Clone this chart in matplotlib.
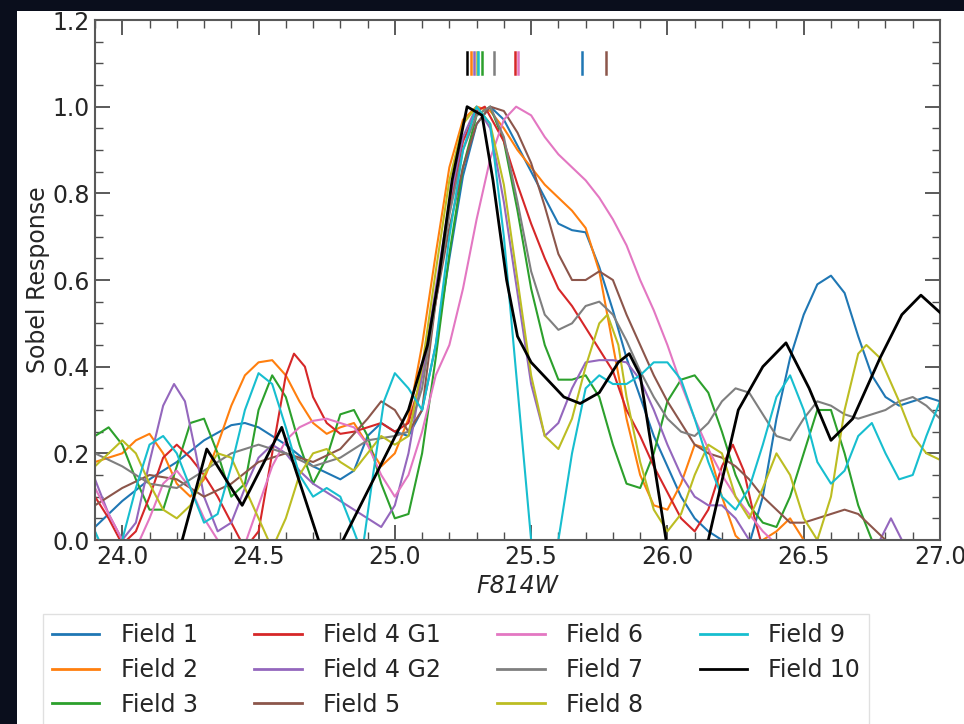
import matplotlib
matplotlib.use("Agg")
import matplotlib.pyplot as plt
from matplotlib.patches import Rectangle

labels = ["Field 1", "Field 2", "Field 3", "Field 4 G1", "Field 4 G2", "Field 5",
          "Field 6", "Field 7", "Field 8", "Field 9", "Field 10"]
colors = ["#1f77b4", "#ff7f0e", "#2ca02c", "#d62728", "#9467bd", "#8c564b",
          "#e377c2", "#7f7f7f", "#bcbd22", "#17becf", "black"]

f1_x = [23.9, 24.0, 24.1, 24.2, 24.3, 24.4, 24.45, 24.5, 24.6, 24.7, 24.8, 24.85, 24.9, 24.95, 25.0, 25.05, 25.1, 25.15, 25.2, 25.25, 25.3, 25.35, 25.4, 25.45, 25.5, 25.55, 25.6, 25.65, 25.7, 25.75, 25.8, 25.85, 25.9, 25.95, 26.0, 26.05, 26.1, 26.15, 26.2, 26.25, 26.3, 26.35, 26.4, 26.45, 26.5, 26.55, 26.6, 26.65, 26.7, 26.75, 26.8, 26.85, 26.9, 26.95, 27.0]
f1_y = [0.03, 0.09, 0.14, 0.18, 0.23, 0.265, 0.27, 0.26, 0.22, 0.17, 0.14, 0.16, 0.24, 0.27, 0.25, 0.24, 0.30, 0.45, 0.65, 0.84, 0.96, 1.0, 0.97, 0.91, 0.85, 0.79, 0.73, 0.715, 0.71, 0.63, 0.53, 0.42, 0.33, 0.24, 0.17, 0.10, 0.05, 0.02, 0.0, -0.03, -0.01, 0.10, 0.28, 0.42, 0.52, 0.59, 0.61, 0.57, 0.47, 0.38, 0.33, 0.31, 0.32, 0.33, 0.32]

f2_x = [23.9, 24.0, 24.05, 24.1, 24.15, 24.2, 24.25, 24.3, 24.35, 24.4, 24.45, 24.5, 24.55, 24.6, 24.65, 24.7, 24.75, 24.8, 24.85, 24.9, 24.95, 25.0, 25.05, 25.1, 25.15, 25.2, 25.25, 25.3, 25.35, 25.4, 25.45, 25.5, 25.55, 25.6, 25.65, 25.7, 25.75, 25.8, 25.85, 25.9, 25.95, 26.0, 26.05, 26.1, 26.15, 26.2, 26.25, 26.3, 26.4, 26.45, 26.5, 26.6, 26.8, 27.0]
f2_y = [0.18, 0.20, 0.23, 0.245, 0.20, 0.13, 0.10, 0.14, 0.22, 0.31, 0.38, 0.41, 0.415, 0.38, 0.32, 0.27, 0.245, 0.26, 0.27, 0.22, 0.17, 0.20, 0.28, 0.45, 0.66, 0.86, 0.97, 1.0, 0.99, 0.95, 0.90, 0.86, 0.82, 0.79, 0.76, 0.72, 0.62, 0.45, 0.28, 0.15, 0.08, 0.07, 0.13, 0.22, 0.21, 0.10, 0.01, -0.02, 0.02, 0.05, 0.0, -0.05, -0.05, -0.05]

f3_x = [23.9, 23.95, 24.0, 24.05, 24.1, 24.15, 24.2, 24.25, 24.3, 24.35, 24.4, 24.45, 24.5, 24.55, 24.6, 24.65, 24.7, 24.75, 24.8, 24.85, 24.9, 24.95, 25.0, 25.05, 25.1, 25.15, 25.2, 25.25, 25.3, 25.35, 25.4, 25.45, 25.5, 25.55, 25.6, 25.65, 25.7, 25.75, 25.8, 25.85, 25.9, 25.95, 26.0, 26.05, 26.1, 26.15, 26.2, 26.25, 26.3, 26.35, 26.4, 26.45, 26.5, 26.55, 26.6, 26.65, 26.7, 26.75, 26.8, 27.0]
f3_y = [0.24, 0.26, 0.22, 0.14, 0.07, 0.07, 0.17, 0.27, 0.28, 0.20, 0.10, 0.13, 0.30, 0.38, 0.33, 0.22, 0.13, 0.19, 0.29, 0.30, 0.24, 0.13, 0.05, 0.06, 0.20, 0.42, 0.66, 0.86, 0.98, 1.0, 0.92, 0.76, 0.58, 0.45, 0.37, 0.37, 0.38, 0.33, 0.22, 0.13, 0.12, 0.20, 0.32, 0.37, 0.38, 0.34, 0.25, 0.15, 0.08, 0.04, 0.03, 0.10, 0.20, 0.30, 0.30, 0.20, 0.08, 0.0, -0.05, -0.05]

f4a_x = [23.9, 23.95, 24.0, 24.05, 24.1, 24.15, 24.2, 24.25, 24.3, 24.35, 24.4, 24.45, 24.5, 24.55, 24.6, 24.63, 24.67, 24.7, 24.75, 24.8, 24.85, 24.9, 24.95, 25.0, 25.05, 25.1, 25.15, 25.2, 25.25, 25.3, 25.33, 25.4, 25.45, 25.5, 25.55, 25.6, 25.65, 25.7, 25.75, 25.8, 25.85, 25.9, 25.95, 26.0, 26.05, 26.1, 26.15, 26.2, 26.24, 26.28, 26.32, 26.35, 26.5, 27.0]
f4a_y = [0.10, 0.05, -0.01, 0.02, 0.10, 0.19, 0.22, 0.19, 0.15, 0.10, 0.04, -0.02, 0.02, 0.20, 0.38, 0.43, 0.40, 0.33, 0.27, 0.245, 0.25, 0.26, 0.27, 0.25, 0.27, 0.38, 0.55, 0.76, 0.92, 0.99, 1.0, 0.92, 0.82, 0.73, 0.65, 0.58, 0.54, 0.49, 0.44, 0.39, 0.30, 0.24, 0.17, 0.11, 0.05, 0.02, 0.07, 0.17, 0.22, 0.16, 0.05, -0.02, -0.10, -0.10]

f4b_x = [23.9, 23.95, 24.0, 24.05, 24.1, 24.15, 24.19, 24.23, 24.27, 24.3, 24.35, 24.4, 24.45, 24.5, 24.55, 24.6, 24.65, 24.7, 24.75, 24.8, 24.85, 24.9, 24.95, 25.0, 25.05, 25.1, 25.15, 25.2, 25.25, 25.3, 25.35, 25.4, 25.45, 25.5, 25.55, 25.6, 25.65, 25.7, 25.75, 25.8, 25.85, 25.9, 25.95, 26.0, 26.05, 26.1, 26.15, 26.2, 26.25, 26.3, 26.4, 26.5, 26.6, 26.7, 26.78, 26.82, 26.86, 26.9, 27.0]
f4b_y = [0.14, 0.06, 0.0, 0.04, 0.18, 0.31, 0.36, 0.32, 0.20, 0.10, 0.02, 0.04, 0.12, 0.19, 0.22, 0.20, 0.16, 0.13, 0.11, 0.09, 0.07, 0.05, 0.03, 0.08, 0.20, 0.38, 0.58, 0.78, 0.93, 1.0, 0.95, 0.78, 0.57, 0.36, 0.24, 0.27, 0.35, 0.41, 0.415, 0.415, 0.41, 0.37, 0.30, 0.22, 0.15, 0.10, 0.08, 0.08, 0.05, 0.0, -0.05, -0.05, -0.03, -0.03, 0.0, 0.05, 0.0, -0.05, -0.05]

f5_x = [23.9, 24.0, 24.1, 24.2, 24.3, 24.4, 24.5, 24.6, 24.7, 24.8, 24.9, 24.95, 25.0, 25.05, 25.1, 25.15, 25.2, 25.25, 25.3, 25.35, 25.4, 25.45, 25.5, 25.55, 25.6, 25.65, 25.7, 25.75, 25.8, 25.85, 25.9, 25.95, 26.0, 26.05, 26.1, 26.15, 26.2, 26.25, 26.3, 26.35, 26.4, 26.45, 26.5, 26.55, 26.6, 26.65, 26.7, 26.75, 26.8, 26.85, 27.0]
f5_y = [0.08, 0.12, 0.15, 0.14, 0.10, 0.13, 0.18, 0.20, 0.18, 0.21, 0.28, 0.32, 0.30, 0.25, 0.30, 0.55, 0.72, 0.86, 0.96, 1.0, 0.99, 0.94, 0.87, 0.77, 0.66, 0.60, 0.60, 0.62, 0.60, 0.52, 0.45, 0.38, 0.32, 0.27, 0.22, 0.20, 0.19, 0.17, 0.14, 0.10, 0.07, 0.04, 0.04, 0.05, 0.06, 0.07, 0.06, 0.03, 0.0, -0.03, -0.03]

f6_x = [23.9, 23.95, 24.0, 24.05, 24.1, 24.15, 24.2, 24.25, 24.3, 24.35, 24.4, 24.45, 24.5, 24.55, 24.6, 24.65, 24.7, 24.75, 24.8, 24.85, 24.9, 24.95, 25.0, 25.05, 25.1, 25.15, 25.2, 25.25, 25.3, 25.35, 25.4, 25.445, 25.5, 25.55, 25.6, 25.65, 25.7, 25.75, 25.8, 25.85, 25.9, 25.95, 26.0, 26.05, 26.1, 26.15, 26.2, 26.25, 26.3, 26.35, 26.4, 27.0]
f6_y = [0.12, 0.06, 0.0, -0.02, 0.05, 0.13, 0.16, 0.12, 0.05, 0.0, -0.03, -0.01, 0.08, 0.17, 0.23, 0.26, 0.275, 0.28, 0.27, 0.26, 0.22, 0.15, 0.10, 0.15, 0.25, 0.38, 0.45, 0.58, 0.74, 0.88, 0.97, 1.0, 0.98, 0.93, 0.89, 0.86, 0.83, 0.79, 0.74, 0.68, 0.60, 0.53, 0.45, 0.36, 0.28, 0.21, 0.15, 0.10, 0.06, 0.02, -0.01, -0.05]

f7_x = [23.9, 24.0, 24.1, 24.2, 24.3, 24.4, 24.5, 24.6, 24.7, 24.8, 24.9, 25.0, 25.05, 25.1, 25.15, 25.2, 25.25, 25.3, 25.35, 25.4, 25.45, 25.5, 25.55, 25.6, 25.65, 25.7, 25.75, 25.8, 25.85, 25.9, 25.95, 26.0, 26.05, 26.1, 26.15, 26.2, 26.25, 26.3, 26.35, 26.4, 26.45, 26.5, 26.55, 26.6, 26.65, 26.7, 26.75, 26.8, 26.85, 26.9, 26.95, 27.0]
f7_y = [0.20, 0.17, 0.13, 0.12, 0.16, 0.20, 0.22, 0.20, 0.17, 0.19, 0.23, 0.24, 0.25, 0.35, 0.55, 0.75, 0.90, 0.98, 1.0, 0.93, 0.78, 0.62, 0.52, 0.485, 0.50, 0.54, 0.55, 0.52, 0.46, 0.39, 0.33, 0.28, 0.25, 0.24, 0.27, 0.32, 0.35, 0.34, 0.29, 0.24, 0.23, 0.28, 0.32, 0.31, 0.29, 0.28, 0.29, 0.30, 0.32, 0.33, 0.31, 0.28]

f8_x = [23.9, 23.95, 24.0, 24.05, 24.1, 24.15, 24.2, 24.25, 24.3, 24.35, 24.4, 24.45, 24.5, 24.55, 24.6, 24.65, 24.7, 24.75, 24.8, 24.85, 24.9, 24.95, 25.0, 25.05, 25.1, 25.15, 25.2, 25.25, 25.3, 25.35, 25.4, 25.45, 25.5, 25.55, 25.6, 25.65, 25.7, 25.75, 25.78, 25.82, 25.85, 25.9, 25.95, 26.0, 26.05, 26.1, 26.15, 26.2, 26.25, 26.3, 26.35, 26.4, 26.45, 26.5, 26.55, 26.6, 26.65, 26.7, 26.73, 26.78, 26.85, 26.9, 26.95, 27.0]
f8_y = [0.17, 0.20, 0.23, 0.20, 0.13, 0.07, 0.05, 0.08, 0.15, 0.20, 0.19, 0.12, 0.05, -0.02, 0.05, 0.15, 0.20, 0.21, 0.18, 0.16, 0.20, 0.24, 0.22, 0.24, 0.40, 0.62, 0.83, 0.96, 1.0, 0.96, 0.82, 0.60, 0.38, 0.24, 0.21, 0.28, 0.40, 0.50, 0.52, 0.45, 0.33, 0.18, 0.07, 0.02, 0.06, 0.15, 0.22, 0.20, 0.10, 0.05, 0.12, 0.20, 0.15, 0.05, 0.0, 0.10, 0.30, 0.43, 0.45, 0.42, 0.32, 0.24, 0.20, 0.185]

f9_x = [23.9, 23.95, 24.0, 24.05, 24.1, 24.15, 24.2, 24.25, 24.3, 24.35, 24.4, 24.45, 24.5, 24.55, 24.6, 24.65, 24.7, 24.75, 24.8, 24.85, 24.88, 24.92, 24.96, 25.0, 25.05, 25.1, 25.15, 25.2, 25.25, 25.3, 25.35, 25.4, 25.45, 25.5, 25.55, 25.6, 25.65, 25.7, 25.75, 25.8, 25.85, 25.9, 25.95, 26.0, 26.05, 26.1, 26.15, 26.2, 26.25, 26.3, 26.35, 26.4, 26.45, 26.5, 26.55, 26.6, 26.65, 26.7, 26.75, 26.8, 26.85, 26.9, 26.95, 27.0]
f9_y = [0.02, -0.05, 0.0, 0.12, 0.22, 0.24, 0.20, 0.12, 0.04, 0.06, 0.17, 0.30, 0.385, 0.36, 0.26, 0.15, 0.10, 0.12, 0.10, 0.02, -0.03, 0.15, 0.32, 0.385, 0.35, 0.30, 0.45, 0.70, 0.90, 1.0, 0.96, 0.70, 0.35, 0.0, -0.08, 0.0, 0.20, 0.35, 0.38, 0.36, 0.36, 0.38, 0.41, 0.41, 0.37, 0.28, 0.18, 0.10, 0.07, 0.12, 0.22, 0.33, 0.38, 0.30, 0.18, 0.13, 0.16, 0.24, 0.27, 0.20, 0.14, 0.15, 0.24, 0.32]

f10_x = [23.9, 24.1, 24.22, 24.31, 24.44, 24.585, 24.72, 24.77, 24.81, 24.93, 25.05, 25.12, 25.16, 25.21, 25.265, 25.32, 25.36, 25.41, 25.45, 25.5, 25.56, 25.62, 25.68, 25.75, 25.82, 25.86, 25.9, 25.95, 26.0, 26.05, 26.12, 26.15, 26.26, 26.35, 26.435, 26.52, 26.6, 26.68, 26.78, 26.86, 26.93, 27.0]
f10_y = [-0.2, -0.15, 0.0, 0.21, 0.08, 0.26, 0.0, -0.04, 0.0, 0.15, 0.30, 0.45, 0.60, 0.83, 1.0, 0.98, 0.83, 0.60, 0.47, 0.41, 0.37, 0.33, 0.315, 0.34, 0.41, 0.43, 0.38, 0.18, -0.02, -0.10, -0.02, 0.0, 0.30, 0.40, 0.455, 0.35, 0.23, 0.28, 0.42, 0.52, 0.565, 0.525]

series_x = [f1_x, f2_x, f3_x, f4a_x, f4b_x, f5_x, f6_x, f7_x, f8_x, f9_x, f10_x]
series_y = [f1_y, f2_y, f3_y, f4a_y, f4b_y, f5_y, f6_y, f7_y, f8_y, f9_y, f10_y]

# TRGB marker positions (short ticks near the top)
trgb = [25.685, 25.28, 25.32, 25.44, 25.29, 25.775, 25.452, 25.365, 25.30, 25.305, 25.263]

plt.rcParams['font.family'] = ['DejaVu Sans']
fig = plt.figure(figsize=(9.64, 7.24), dpi=100)
fig.patch.set_facecolor('white')
dark = '#0a0e1c'
fig.add_artist(Rectangle((0, 1 - 11 / 724), 1, 11 / 724, transform=fig.transFigure,
                         facecolor=dark, edgecolor='none', zorder=10))
fig.add_artist(Rectangle((0, 0), 17 / 964, 1, transform=fig.transFigure,
                         facecolor=dark, edgecolor='none', zorder=10))

ax = fig.add_axes([95 / 964, 1 - 540 / 724, (940 - 95) / 964, (540 - 20) / 724])

for xs, ys, c, lab in zip(series_x, series_y, colors, labels):
    lw = 2.0 if c == 'black' else 1.5
    ax.plot(xs, ys, color=c, lw=lw, label=lab, zorder=3 if c == 'black' else 2)

for t, c in zip(trgb, colors):
    ax.plot([t, t], [1.075, 1.125], color=c, lw=1.8)

ax.set_xlim(23.9, 27.0)
ax.set_ylim(0.0, 1.2)
ax.set_xticks([24.0, 24.5, 25.0, 25.5, 26.0, 26.5, 27.0])
ax.set_yticks([0.0, 0.2, 0.4, 0.6, 0.8, 1.0, 1.2])
ax.xaxis.set_minor_locator(matplotlib.ticker.MultipleLocator(0.1))
ax.yaxis.set_minor_locator(matplotlib.ticker.MultipleLocator(0.05))
ax.tick_params(which='both', direction='in', top=True, right=True, colors='0.3',
               labelcolor='0.15', labelsize=17)
ax.tick_params(which='major', length=11, width=1.3)
ax.tick_params(which='minor', length=6, width=1.0)
for s in ax.spines.values():
    s.set_color('0.35')
    s.set_linewidth(1.5)

ax.set_xlabel('F814W', fontstyle='italic', fontsize=17, color='0.15', labelpad=4)
ax.set_ylabel('Sobel Response', fontsize=17, color='0.15', labelpad=2)

leg = fig.legend(loc='upper left', bbox_to_anchor=(31 / 964, 1 - 602 / 724), ncol=4,
                 fontsize=17, frameon=True, fancybox=False, labelspacing=0.45,
                 handlelength=2.0, handletextpad=0.9, columnspacing=2.4,
                 borderpad=0.4, edgecolor='0.85')
for line in leg.get_lines():
    line.set_linewidth(2.0)
for txt in leg.get_texts():
    txt.set_color('0.15')

fig.savefig('out.png', dpi=100, facecolor='white')
